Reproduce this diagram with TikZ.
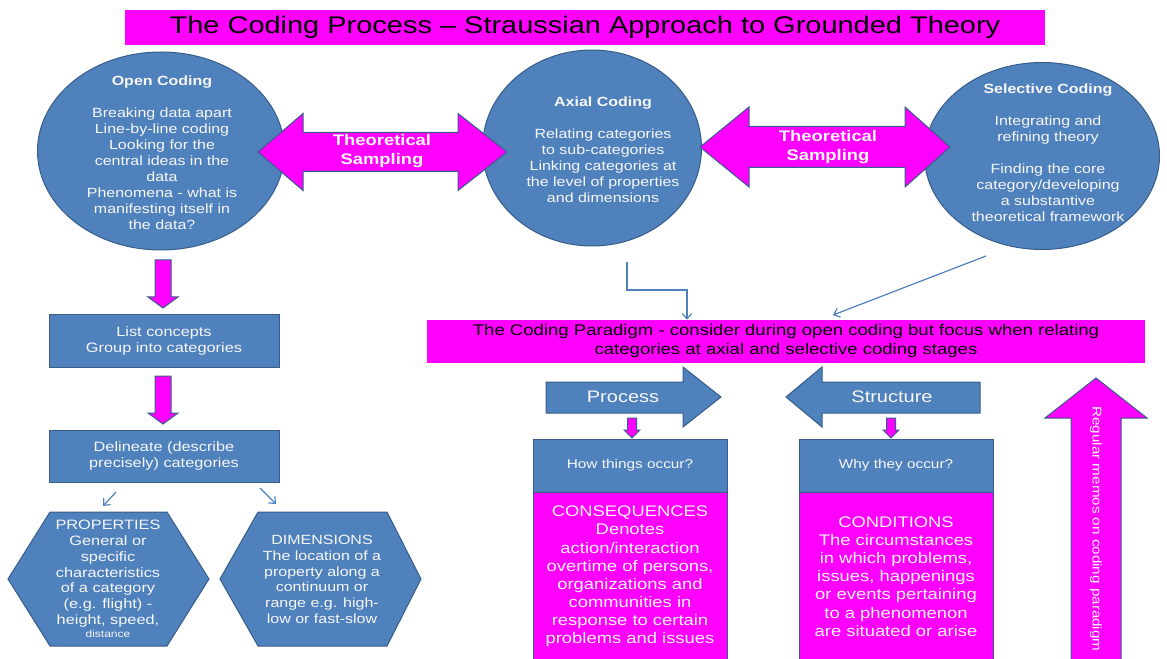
\documentclass[tikz,border=0pt]{standalone}
\usepackage{fontspec}
\setmainfont{Liberation Sans}[FakeStretch=1.2]
\usetikzlibrary{shapes.geometric,arrows.meta}
\definecolor{ofblue}{HTML}{4F81BD}
\definecolor{ofedge}{HTML}{385D8A}
\definecolor{mag}{HTML}{FF00FF}
\definecolor{paper}{HTML}{F7F7F7}
\tikzset{
  px/.style={x=0.75pt,y=-0.75pt},
  ell/.style={ellipse,fill=ofblue,draw=ofedge,line width=0.75pt,inner sep=0pt},
  wtext/.style={text=paper,align=center,inner sep=0pt},
  ktext/.style={text=black,align=center,inner sep=0pt},
  bluebox/.style={rectangle,fill=ofblue,draw=ofedge,line width=0.75pt,inner sep=0pt,text=paper,align=center},
  magbox/.style={rectangle,fill=mag,draw=ofedge,line width=0.75pt,inner sep=0pt},
  magarrow/.style={fill=mag,draw=ofedge,line width=0.75pt,line join=miter},
  bluearrow/.style={fill=ofblue,draw=ofedge,line width=0.75pt,line join=miter},
  conn/.style={draw=ofblue,line width=0.9pt,-{Straight Barb[length=4pt,width=7pt]}},
}
\begin{document}
\begin{tikzpicture}[px]
\useasboundingbox (0,0) rectangle (1167,659);

% heading
\node[rectangle,fill=mag,minimum width=920*0.75pt,minimum height=35*0.75pt,inner sep=0pt,
      font=\fontsize{18.1}{22}\selectfont] (title) at (585,27.5)
  {The Coding Process – Straussian Approach to Grounded Theory};

% the three coding stages
\node[ell,minimum width=247*0.75pt,minimum height=198*0.75pt] (open) at (161,151) {};
\node[ell,minimum width=219*0.75pt,minimum height=196*0.75pt] (axial) at (592,148) {};
\node[ell,minimum width=235*0.75pt,minimum height=187*0.75pt] (selective) at (1042,156) {};

\node[wtext,font=\fontsize{10}{12}\selectfont] (open-txt) at (162,153)
  {\textbf{Open Coding}\\[12pt] Breaking data apart\\ Line-by-line coding\\ Looking for the\\
   central ideas in the\\ data\\ Phenomena - what is\\ manifesting itself in\\ the data?};
\node[wtext,font=\fontsize{10}{12}\selectfont] (axial-txt) at (603,150)
  {\textbf{Axial Coding}\\[12pt] Relating categories\\ to sub-categories\\ Linking categories at\\
   the level of properties\\ and dimensions};
\node[wtext,font=\fontsize{10}{12}\selectfont] (sel-txt) at (1048,153)
  {\textbf{Selective Coding}\\[12pt] Integrating and\\ refining theory\\[12pt] Finding the core\\
   category/developing\\ a substantive\\ theoretical framework};

% theoretical sampling double arrows
\draw[magarrow] (258,152) -- (303,113.5) -- (303,132.5) -- (458,132.5) -- (458,113.5) -- (507,152)
  -- (458,190.5) -- (458,171.5) -- (303,171.5) -- (303,190.5) -- cycle;
\node[wtext,font=\bfseries\fontsize{11.5}{14.25}\selectfont] (ts1) at (382,151.5) {Theoretical\\ Sampling};
\draw[magarrow] (700,147) -- (749,107) -- (749,126.5) -- (905,126.5) -- (905,107) -- (950,147)
  -- (905,187) -- (905,167.5) -- (749,167.5) -- (749,187) -- cycle;
\node[wtext,font=\bfseries\fontsize{11.5}{14.25}\selectfont] (ts2) at (828,147.5) {Theoretical\\ Sampling};

% coding paradigm banner
\node[rectangle,fill=mag,minimum width=718*0.75pt,minimum height=43*0.75pt,inner sep=0pt,
      ktext,font=\fontsize{11.6}{14.25}\selectfont] (paradigm) at (786,341.5)
  {The Coding Paradigm - consider during open coding but focus when relating\\
   categories at axial and selective coding stages};

\coordinate (axial-out) at (627,262);
\coordinate (axial-bend) at (687,290);
\coordinate (sel-out) at (986,256);
\coordinate (sel-in) at (833,315);
\draw[conn] (axial-out) |- (axial-bend) -- (axial-bend |- paradigm.north);
\draw[conn] (sel-out) -- (sel-in);

% open coding steps
\draw[magarrow] (155,260) -- (171,260) -- (171,297) -- (178,297) -- (163,308) -- (148,297) -- (155,297) -- cycle;
\node[bluebox,minimum width=230*0.75pt,minimum height=53*0.75pt,font=\fontsize{10.2}{12}\selectfont]
  (concepts) at (164,340.5) {List concepts\\ Group into categories};
\draw[magarrow] (155,376) -- (171,376) -- (171,413) -- (178,413) -- (163,424) -- (148,413) -- (155,413) -- cycle;
\node[bluebox,minimum width=230*0.75pt,minimum height=52*0.75pt,font=\fontsize{10.2}{12}\selectfont]
  (delineate) at (164,456) {Delineate (describe\\ precisely) categories};

\coordinate (del-left) at (116,492);
\coordinate (prop-in) at (103,506);
\coordinate (del-right) at (260,488);
\coordinate (dim-in) at (276,504);
\draw[conn] (del-left) -- (prop-in);
\draw[conn] (del-right) -- (dim-in);

% properties and dimensions
\draw[bluearrow] (8,579) -- (50,512) -- (167,512) -- (209,579) -- (167,646) -- (50,646) -- cycle;
\node[wtext,font=\fontsize{10.2}{11.8}\selectfont] (props) at (108,579)
  {PROPERTIES\\ General or\\ specific\\ characteristics\\ of a category\\ (e.g. flight) -\\
   height, speed,\\[-2pt] {\fontsize{7.5}{9}\selectfont distance}};
\draw[bluearrow] (220,579) -- (258,512) -- (387,512) -- (421,579) -- (387,646) -- (258,646) -- cycle;
\node[wtext,font=\fontsize{10}{11.8}\selectfont] (dims) at (322,579.5)
  {DIMENSIONS\\ The location of a\\ property along a\\ continuum or\\ range e.g. high-\\ low or fast-slow};

% process and structure
\draw[bluearrow] (546,382) -- (683,382) -- (683,367) -- (721,397) -- (683,427) -- (683,413) -- (546,413) -- cycle;
\node[wtext,font=\fontsize{12.5}{15}\selectfont] (process) at (623,397) {Process};
\draw[bluearrow] (980,382) -- (822,382) -- (822,367) -- (786,397) -- (822,427) -- (822,413) -- (980,413) -- cycle;
\node[wtext,font=\fontsize{12.5}{15}\selectfont] (structure) at (892,397) {Structure};

\draw[magarrow] (627.5,418) -- (636.5,418) -- (636.5,430) -- (640,430) -- (632,438) -- (624,430) -- (627.5,430) -- cycle;
\draw[magarrow] (886.5,418) -- (895.5,418) -- (895.5,430) -- (899,430) -- (891,438) -- (883,430) -- (886.5,430) -- cycle;

\node[bluebox,minimum width=194*0.75pt,minimum height=53*0.75pt,font=\fontsize{9.6}{12}\selectfont]
  (how) at (630,465.5) {How things occur?};
\node[bluebox,minimum width=194*0.75pt,minimum height=53*0.75pt,font=\fontsize{9.6}{12}\selectfont]
  (why) at (896,465.5) {Why they occur?};
\node[magbox,minimum width=194*0.75pt,minimum height=172*0.75pt] (conseq) at (630,578) {};
\node[magbox,minimum width=194*0.75pt,minimum height=172*0.75pt] (cond) at (896,578) {};
\node[wtext,font=\fontsize{11.5}{13.6}\selectfont] (conseq-txt) at (630,576.5)
  {CONSEQUENCES\\ Denotes\\ action/interaction\\ overtime of persons,\\ organizations and\\
   communities in\\ response to certain\\ problems and issues};
\node[wtext,font=\fontsize{11.5}{13.6}\selectfont] (cond-txt) at (896,576.5)
  {CONDITIONS\\ The circumstances\\ in which problems,\\ issues, happenings\\ or events pertaining\\
   to a phenomenon\\ are situated or arise};

% memo arrow
\draw[magarrow] (1071,664) -- (1071,418) -- (1045,418) -- (1096,378) -- (1147,418) -- (1121,418) -- (1121,664) -- cycle;
\node[wtext,rotate=-90,font=\fontsize{9.5}{11}\selectfont] (memos) at (1096,529) {Regular memos on coding paradigm};
\end{tikzpicture}
\end{document}
